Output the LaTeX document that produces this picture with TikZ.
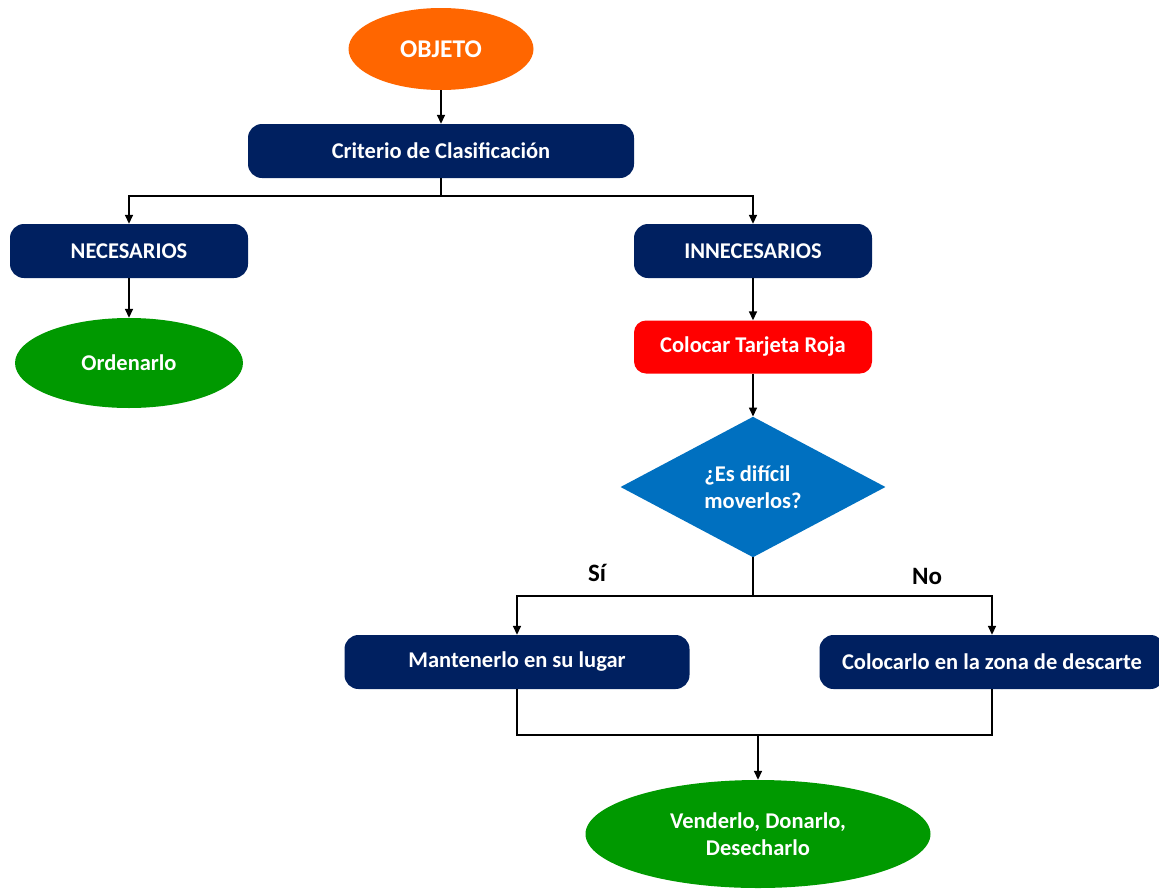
\documentclass[tikz,border=0pt]{standalone}
\usepackage{fontspec}
\setmainfont{Carlito}
\usetikzlibrary{shapes.geometric,arrows.meta}
\definecolor{navy}{HTML}{002060}
\definecolor{orng}{HTML}{FF6600}
\definecolor{grn}{HTML}{009900}
\definecolor{rojo}{HTML}{FF0000}
\definecolor{azul}{HTML}{0070C0}
\begin{document}
\begin{tikzpicture}[x=1pt,y=-1pt,
  lbl/.style={text=white,font=\fontsize{22.5}{27.5}\selectfont\bfseries,align=center,inner sep=0pt},
  navybox/.style={lbl,fill=navy,rounded corners=14pt,minimum height=54pt},
  oval/.style={lbl,ellipse,fill=grn},
  conn/.style={line width=1.6pt,draw=black},
  arr/.style={conn,-{Triangle[length=9pt,width=8pt]}}]
\useasboundingbox (0,0) rectangle (1159,889);
\node[oval,fill=orng,minimum width=185pt,minimum height=82pt,font=\fontsize{25.5}{30}\selectfont\bfseries] (obj) at (441,49) {OBJETO};
\node[navybox,minimum width=386pt] (crit) at (441,151) {Criterio de Clasificación};
\node[navybox,minimum width=238pt] (nec) at (129,251) {NECESARIOS};
\node[navybox,minimum width=238pt] (inn) at (753,251) {INNECESARIOS};
\node[oval,minimum width=228pt,minimum height=90pt] (ord) at (129,363) {Ordenarlo};
\node[lbl,fill=rojo,rounded corners=12pt,minimum width=238pt,minimum height=53pt] (roja) at (753,347) {Colocar Tarjeta Roja};
\node[lbl,diamond,fill=azul,minimum width=265pt,minimum height=139pt,align=left] (dif) at (753,487) {¿Es difícil\\moverlos?};
\node[navybox,minimum width=345pt] (mant) at (517,662) {Mantenerlo en su lugar};
\node[navybox,minimum width=345pt] (desc) at (992,662) {Colocarlo en la zona de descarte};
\node[oval,minimum width=345pt,minimum height=108pt] (vend) at (758,834) {Venderlo, Donarlo,\\Desecharlo};
\node[font=\fontsize{25}{30}\selectfont\bfseries,inner sep=0pt] (si) at (597,573) {Sí};
\node[font=\fontsize{25}{30}\selectfont\bfseries,inner sep=0pt] (no) at (927,576) {No};
\coordinate (j1) at (441,196);
\coordinate (j2) at (753,596);
\coordinate (j3) at (758,735);
\draw[arr] (obj) -- (crit);
\draw[conn] (crit.south) -- (j1);
\draw[arr] (j1) -| (nec.north);
\draw[arr] (j1) -| (inn.north);
\draw[arr] (nec) -- (ord);
\draw[arr] (inn) -- (roja);
\draw[arr] (roja) -- (dif);
\draw[conn] (dif.south) -- (j2);
\draw[arr] (j2) -| (mant.north);
\draw[arr] (j2) -| (desc.north);
\draw[conn] (mant.south) |- (j3);
\draw[conn] (desc.south) |- (j3);
\draw[arr] (j3) -- (vend);
\end{tikzpicture}
\end{document}
